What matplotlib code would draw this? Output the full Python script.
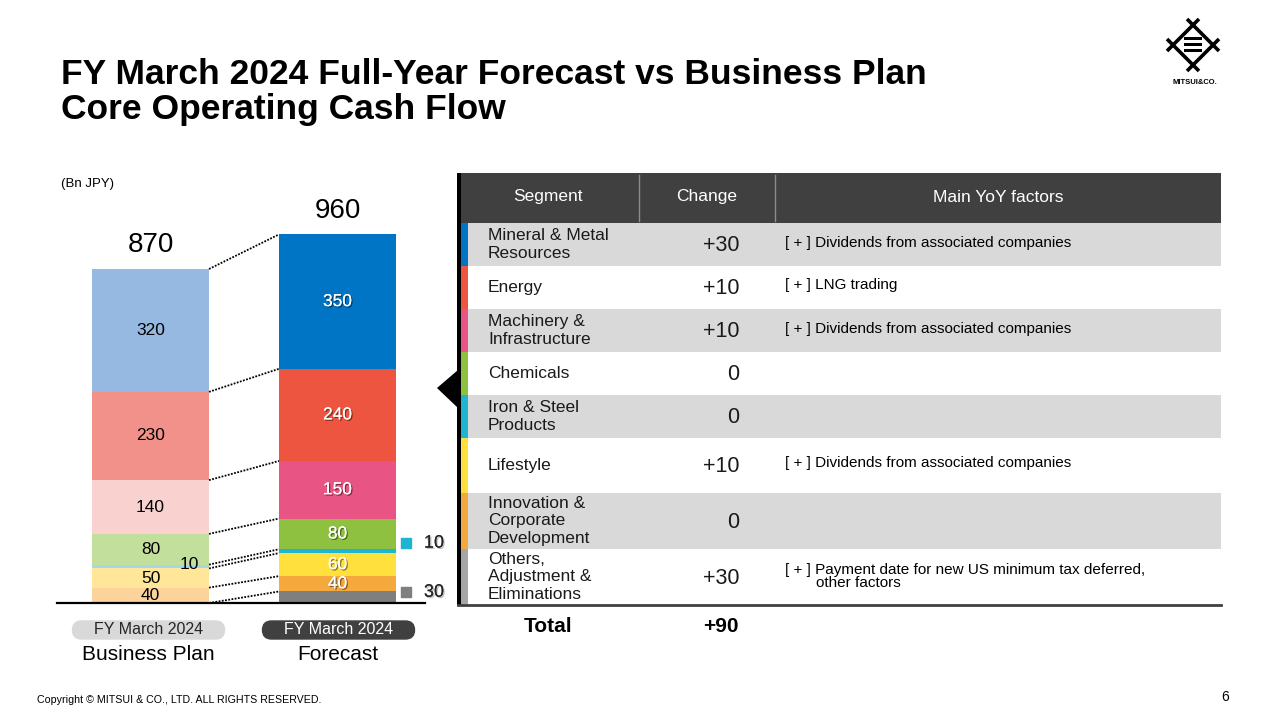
import matplotlib.pyplot as plt
import matplotlib.patheffects as pe
from matplotlib.patches import Rectangle, FancyBboxPatch, Polygon

plt.rcParams['font.family'] = ['Liberation Sans', 'DejaVu Sans']

# Segment data, bottom of the stack first (Bn JPY)
segments = ['Others,\nAdjustment &\nEliminations', 'Innovation &\nCorporate\nDevelopment', 'Lifestyle',
            'Iron & Steel\nProducts', 'Chemicals', 'Machinery &\nInfrastructure', 'Energy',
            'Mineral & Metal\nResources']
plan = [0, 40, 50, 10, 80, 140, 230, 320]
forecast = [30, 40, 60, 10, 80, 150, 240, 350]
factors = ['[ + ] Payment date for new US minimum tax deferred,', '', '[ + ] Dividends from associated companies',
           '', '', '[ + ] Dividends from associated companies', '[ + ] LNG trading',
           '[ + ] Dividends from associated companies']
bar_labels = ['FY March 2024', 'FY March 2024']
bar_names = ['Business Plan', 'Forecast']

plan_colors = ['#FFFFFF', '#FBD39B', '#FFE699', '#A1D8EE', '#C3DF9C', '#F9D1CE', '#F1918A', '#96B9E1']
fc_colors = ['#7F7F7F', '#F5A83C', '#FFE03C', '#1FB5D1', '#8DC13F', '#E85585', '#EE5541', '#0075C5']
strip_colors = ['#A6A6A6', '#F5A83C', '#FFE03C', '#1FB5D1', '#8DC13F', '#E85585', '#EE5541', '#0075C5']

fig = plt.figure(figsize=(12.8, 7.2), dpi=100)

# background axes in pixel coordinates for table and decorations
bg = fig.add_axes([0, 0, 1, 1], zorder=0)
bg.set_xlim(0, 1280)
bg.set_ylim(720, 0)
bg.axis('off')

# ---- stacked bars ----
scale = 334 / 870  # px per unit
ymax = 1100
ax = fig.add_axes([57 / 1280, (720 - 603) / 720, (425 - 57) / 1280, ymax * scale / 720], zorder=1)
ax.patch.set_alpha(0)
ax.set_xlim(-0.5, 1.468)
ax.set_ylim(0, ymax)
for s in ['top', 'right', 'left']:
    ax.spines[s].set_visible(False)
ax.spines['bottom'].set_linewidth(1.6)
ax.set_xticks([])
ax.set_yticks([])

w = 0.626
shadow = [pe.withSimplePatchShadow(offset=(1, -1), shadow_rgbFace='black', alpha=0.45), pe.Normal()]
cp, cf = 0, 0
for i in range(len(segments)):
    ax.bar(0, plan[i], bottom=cp, width=w, color=plan_colors[i], linewidth=0)
    ax.bar(1, forecast[i], bottom=cf, width=w, color=fc_colors[i], linewidth=0)
    # labels
    if plan[i] > 0:
        if plan[i] < 20:
            ax.text(0.21, cp + plan[i] - 1, str(plan[i]), ha='center', va='center', fontsize=12.5)
        else:
            ax.text(0, cp + plan[i] / 2, str(plan[i]), ha='center', va='center', fontsize=12.5)
    if forecast[i] >= 40:
        ax.text(1, cf + forecast[i] / 2, str(forecast[i]), ha='center', va='center', fontsize=12.5,
                color='white', path_effects=shadow)
    else:
        off = 21 if i == 3 else 13
        ym = cf + forecast[i] / 2 + off
        ax.scatter([1.366], [ym], marker='s', s=50, color=fc_colors[i], clip_on=False)
        ax.text(1.516, ym, str(forecast[i]), ha='center', va='center', fontsize=13, color='#262626',
                clip_on=False, path_effects=[pe.withSimplePatchShadow(offset=(1, -1), alpha=0.25), pe.Normal()])
    cp += plan[i]
    cf += forecast[i]
    ax.plot([w / 2, 1 - w / 2], [cp, cf], color='black', lw=1.3, ls=(0, (1, 0.8)))

for x, total in [(0, sum(plan)), (1, sum(forecast))]:
    ax.annotate(str(total), (x, total), xytext=(0, 17), textcoords='offset points',
                ha='center', va='center', fontsize=20)

# pills under bars
for cx, lab, name, fc, tc in [(148.5, bar_labels[0], bar_names[0], '#D9D9D9', '#262626'),
                              (338.5, bar_labels[1], bar_names[1], '#404040', 'white')]:
    bg.add_patch(FancyBboxPatch((cx - 76, 621), 152, 18, boxstyle='round,pad=0,rounding_size=9',
                                facecolor=fc, edgecolor=fc, lw=1))
    bg.text(cx, 630, lab, ha='center', va='center', fontsize=11.5, color=tc)
    bg.text(cx - 0.5, 655, name, ha='center', va='center', fontsize=15, color='black')

bg.text(61, 184, '(Bn JPY)', ha='left', va='center', fontsize=9.5)

# ---- table ----
tx0, tx1 = 461, 1221
bg.add_patch(Rectangle((tx0, 173), tx1 - tx0, 50, color='#404040', lw=0))
for xd in [639, 775]:
    bg.plot([xd, xd], [175, 221], color='#8C8C8C', lw=1)
bg.text(548, 197, 'Segment', ha='center', va='center', fontsize=12.5, color='white')
bg.text(707, 197, 'Change', ha='center', va='center', fontsize=12.5, color='white')
bg.text(998, 197, 'Main YoY factors', ha='center', va='center', fontsize=12.5, color='white')

row_h = [43, 43, 43, 43, 43, 55, 56, 56]  # top to bottom
y = 223
rows = list(range(len(segments)))[::-1]
for k, i in enumerate(rows):
    h = row_h[k]
    if k % 2 == 0:
        bg.add_patch(Rectangle((468, y), tx1 - 468, h, color='#D9D9D9', lw=0))
    bg.add_patch(Rectangle((tx0, y), 7, h, color=strip_colors[i], lw=0))
    mid = y + h / 2
    bg.text(488, mid, segments[i], ha='left', va='center', fontsize=12.5, linespacing=1.22, color='#1a1a1a')
    d = forecast[i] - plan[i]
    bg.text(739, mid + 1, f'+{d}' if d > 0 else str(d), ha='right', va='center', fontsize=15.5, color='#1a1a1a')
    if factors[i]:
        if i == 0:
            bg.text(785, mid - 7, factors[i], ha='left', va='center', fontsize=11)
            bg.text(816, mid + 6, 'other factors', ha='left', va='center', fontsize=11)
        else:
            bg.text(785, mid - 2, factors[i], ha='left', va='center', fontsize=11)
    y += h

bg.add_patch(Rectangle((457, 173), 4, 605 - 173, color='black', lw=0))
bg.plot([458, tx1], [605, 605], color='#404040', lw=2)
bg.add_patch(Polygon([(437, 388), (458, 370), (458, 408)], closed=True, color='black', lw=0))

bg.text(548, 626, 'Total', ha='center', va='center', fontsize=15, fontweight='bold')
d_total = sum(forecast) - sum(plan)
bg.text(739, 626, f'+{d_total}', ha='right', va='center', fontsize=15, fontweight='bold')

# ---- title, footer, logo ----
bg.text(61, 74, 'FY March 2024 Full-Year Forecast vs Business Plan', ha='left', va='center',
        fontsize=25.5, fontweight='bold')
bg.text(61, 109, 'Core Operating Cash Flow', ha='left', va='center', fontsize=25.5, fontweight='bold')
bg.text(37, 700, 'Copyright © MITSUI & CO., LTD. ALL RIGHTS RESERVED.', ha='left', va='center', fontsize=7.7)
bg.text(1229, 697, '6', ha='right', va='center', fontsize=10)

cx, cy, r = 1193, 45, 20
pts = [(cx, cy - r), (cx + r, cy), (cx, cy + r), (cx - r, cy)]
e = 0.3
for a in range(4):
    p, q = pts[a], pts[(a + 1) % 4]
    dx, dy = q[0] - p[0], q[1] - p[1]
    bg.plot([p[0] - e * dx, q[0] + e * dx], [p[1] - e * dy, q[1] + e * dy], color='black', lw=2.6,
            solid_capstyle='butt')
for yb in [37, 43, 49]:
    bg.add_patch(Rectangle((1184, yb), 18, 3, color='black', lw=0))
bg.text(1195, 83, 'MITSUI&CO.', ha='center', va='center', fontsize=5.5, fontweight='bold')

fig.savefig('out.png', dpi=100)
